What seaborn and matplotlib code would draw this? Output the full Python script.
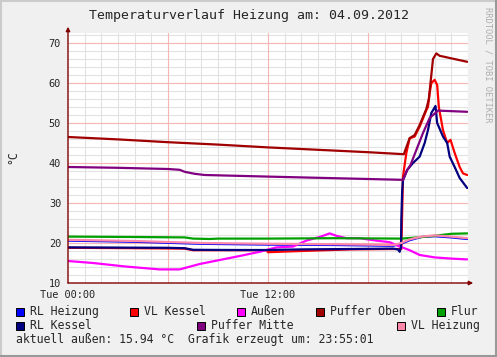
import numpy as np
import pandas as pd
import matplotlib
matplotlib.use("Agg")
import matplotlib.pyplot as plt
import seaborn as sns
from matplotlib.patches import Rectangle
from matplotlib.lines import Line2D

# ---------------- data (hours since Tue 00:00, °C) ----------------
series_names = ["RL Heizung", "VL Kessel", "Außen", "Puffer Oben", "Flur",
                "RL Kessel", "Puffer Mitte", "VL Heizung"]
series_colors = ["#0000FF", "#FF0000", "#FF00FF", "#A00000", "#00A000",
                 "#000080", "#800080", "#FF88AA"]

rl_heizung_t = [0, 4, 8, 12, 16, 19.5, 20.0, 20.5, 21.2, 22.0, 23.0, 23.95]
rl_heizung_v = [20.6, 20.3, 19.8, 19.6, 19.5, 19.3, 19.8, 20.7, 21.5, 21.7, 21.4, 21.0]

vl_kessel_t = [0, 4, 7, 7.5, 11.9, 12.0, 14, 17, 19.8, 20.0, 20.1, 20.3, 20.5, 20.8,
               21.1, 21.5, 21.6, 21.7, 21.8, 22.0, 22.15, 22.25, 22.5, 22.75, 22.95,
               23.2, 23.5, 23.7, 23.95]
vl_kessel_v = [18.8, 18.7, 18.6, 18.2, 18.2, 17.7, 18.0, 18.4, 18.5, 18.5, 36.6, 42.5,
               46.2, 46.6, 49.1, 53.2, 54.0, 57.5, 60.0, 60.8, 59.5, 54.0, 48.2, 45.0,
               45.8, 42.5, 39.0, 37.4, 37.0]

aussen_t = [0, 1.5, 3.5, 5.5, 6.7, 7.9, 9.1, 10.3, 11.5, 12.5, 13.5, 14.3, 15.1, 15.7,
            16.1, 16.7, 17.5, 18.5, 19.3, 19.8, 20.5, 21.1, 22.0, 23.0, 23.95]
aussen_v = [15.5, 15.0, 14.1, 13.4, 13.4, 14.75, 15.75, 16.75, 17.8, 18.9, 19.1, 20.6,
            21.5, 22.4, 21.8, 21.2, 21.2, 20.6, 20.2, 19.3, 18.2, 17.0, 16.4, 16.1, 15.9]

puffer_oben_t = [0, 3, 6, 9, 12, 15, 18, 20.15, 20.35, 20.5, 20.8, 21.1, 21.5, 21.65,
                 21.8, 21.9, 22.1, 22.3, 23.95]
puffer_oben_v = [46.5, 45.9, 45.2, 44.6, 43.9, 43.3, 42.7, 42.2, 44.5, 46.2, 47.0, 49.5,
                 53.5, 56.0, 62.0, 66.0, 67.4, 66.8, 65.3]

flur_t = [0, 4, 7, 7.5, 8.5, 9, 12, 16, 20, 21, 22, 23, 23.95]
flur_v = [21.6, 21.5, 21.4, 21.1, 21.0, 21.1, 21.1, 21.2, 21.1, 21.4, 21.8, 22.3, 22.4]

rl_kessel_t = [0, 3, 6, 7, 7.5, 10, 12, 14, 17, 19.5, 19.8, 19.9, 19.98, 20.0, 20.05,
               20.1, 20.35, 20.7, 21.1, 21.4, 21.6, 21.8, 22.05, 22.15, 22.5, 22.75,
               22.9, 23.2, 23.5, 23.95]
rl_kessel_v = [18.9, 18.85, 18.8, 18.7, 18.3, 18.25, 18.25, 18.4, 18.5, 18.6, 18.4, 17.8,
               19.0, 26.0, 33.0, 35.75, 38.25, 40.0, 41.6, 45.0, 48.25, 52.5, 54.25, 50.0,
               46.6, 45.0, 41.6, 39.0, 36.25, 33.75]

puffer_mitte_t = [0, 3, 6, 6.7, 7.0, 7.6, 8.2, 12, 16, 20.0, 20.1, 20.35, 20.55, 20.9,
                  21.3, 21.7, 22.2, 23.95]
puffer_mitte_v = [39.0, 38.8, 38.5, 38.3, 37.8, 37.3, 37.0, 36.6, 36.2, 35.8, 35.7, 38.25,
                  39.5, 43.25, 47.5, 51.25, 53.1, 52.8]

vl_heizung_t = [0, 4, 8, 12, 16, 19.5, 20.0, 20.5, 21.2, 22.0, 23.0, 23.95]
vl_heizung_v = [20.8, 20.5, 20.0, 19.8, 19.7, 19.5, 20.0, 20.9, 21.6, 21.9, 21.6, 21.2]

series_t = [rl_heizung_t, vl_kessel_t, aussen_t, puffer_oben_t, flur_t,
            rl_kessel_t, puffer_mitte_t, vl_heizung_t]
series_v = [rl_heizung_v, vl_kessel_v, aussen_v, puffer_oben_v, flur_v,
            rl_kessel_v, puffer_mitte_v, vl_heizung_v]

x_tick_labels = ["Tue 00:00", "Tue 12:00"]
title_text = "Temperaturverlauf Heizung am: 04.09.2012"
footer_text = "aktuell außen: 15.94 °C  Grafik erzeugt um: 23:55:01"

df = pd.concat([pd.DataFrame({"t": t, "v": v, "name": n})
                for t, v, n in zip(series_t, series_v, series_names)],
               ignore_index=True)

# ---------------- style ----------------
sns.set_style("white")
plt.rcParams["font.family"] = ["DejaVu Sans Mono", "DejaVu Sans"]

W, H = 497, 357
fig = plt.figure(figsize=(W / 100, H / 100), dpi=100, facecolor="#F0F0F0")

def fx(x):
    return x / W

def fy(y):
    return 1 - y / H

ax = fig.add_axes([fx(68), fy(283), 400 / W, 250 / H])
ax.set_facecolor("white")

palette = dict(zip(series_names, series_colors))
for n in series_names:
    sns.lineplot(data=df[df["name"] == n], x="t", y="v", color=palette[n],
                 lw=1.6, ax=ax, legend=False, estimator=None, sort=False,
                 zorder=3, solid_joinstyle="round")

ax.set_xlim(0, 24)
ax.set_ylim(10, 72.5)

# grids
for h in range(1, 25):
    ax.axvline(h, color="#E2E2E2" if h % 6 else "#F6B4B4", lw=0.8, zorder=1 if h % 6 else 2)
for yv in range(12, 73, 2):
    ax.axhline(yv, color="#E2E2E2" if yv % 10 else "#F6B4B4", lw=0.8, zorder=1 if yv % 10 else 2)

ax.set_xticks([0, 12])
ax.set_xticklabels(x_tick_labels)
ax.set_yticks(range(10, 71, 10))
ax.set_yticklabels([str(v) for v in range(10, 71, 10)])
ax.tick_params(axis="both", labelsize=7.4, length=3, width=0.8, color="#8B3030",
               pad=2)
ax.set_xlabel("")
ax.set_ylabel("")
for s in ax.spines.values():
    s.set_visible(False)

ax.annotate("", xy=(0, 1.025), xytext=(0, 0), xycoords="axes fraction",
            arrowprops=dict(arrowstyle="-|>", color="#7F0000", lw=1.0,
                            mutation_scale=6, shrinkA=0, shrinkB=0), zorder=5)
ax.annotate("", xy=(1.013, 0), xytext=(0, 0), xycoords="axes fraction",
            arrowprops=dict(arrowstyle="-|>", color="#7F0000", lw=1.0,
                            mutation_scale=6, shrinkA=0, shrinkB=0), zorder=5)

# texts
fig.text(fx(249), fy(16), title_text, ha="center", va="center", fontsize=9.5)
fig.text(fx(13), fy(157), "°C", ha="center", va="center", rotation=90, fontsize=8.3)
fig.text(fx(488), fy(7), "RRDTOOL / TOBI OETIKER", ha="center", va="top",
         rotation=-90, fontsize=6.3, color="#ADADAD")

# legend
legend_pos = [(16, 311.5), (130, 311.5), (237, 311.5), (316, 311.5), (437, 311.5),
              (16, 325.5), (197, 325.5), (397, 325.5)]
for (lx, ly), n, c in zip(legend_pos, series_names, series_colors):
    fig.add_artist(Rectangle((fx(lx), fy(ly + 4)), 8 / W, 8 / H,
                             transform=fig.transFigure, facecolor=c,
                             edgecolor="black", lw=0.7))
    fig.text(fx(lx + 14), fy(ly), n, ha="left", va="center", fontsize=8.3)
fig.text(fx(16), fy(339.5), footer_text, ha="left", va="center", fontsize=8.3)

# 3D border
fig.add_artist(Line2D([0, 1], [1 - 1 / H, 1 - 1 / H], transform=fig.transFigure,
                      color="#CBCBCB", lw=1.5))
fig.add_artist(Line2D([1 / W, 1 / W], [0, 1], transform=fig.transFigure,
                      color="#CBCBCB", lw=1.5))
fig.add_artist(Line2D([0, 1], [1 / H, 1 / H], transform=fig.transFigure,
                      color="#999999", lw=1.5))
fig.add_artist(Line2D([1 - 1 / W, 1 - 1 / W], [0, 1], transform=fig.transFigure,
                      color="#999999", lw=1.5))

fig.savefig("out.png", dpi=100, facecolor=fig.get_facecolor())
